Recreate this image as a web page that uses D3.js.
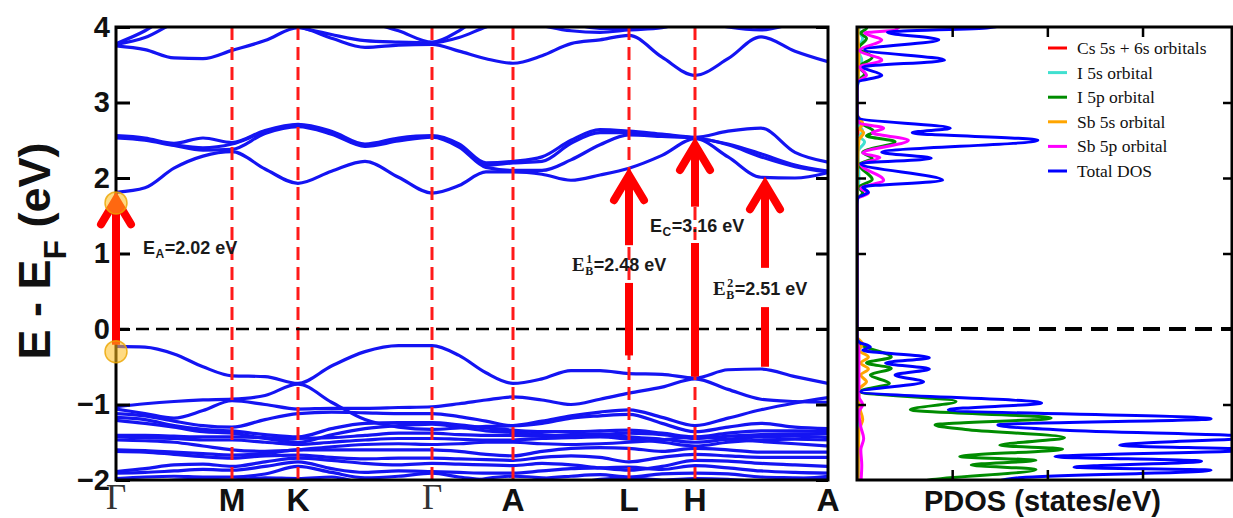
<!DOCTYPE html>
<html>
<head>
<meta charset="utf-8">
<script src="https://cdn.jsdelivr.net/npm/d3@7"></script>
<style>
  html, body { margin: 0; padding: 0; background: #fff; }
  svg { display: block; }
</style>
</head>
<body>
<svg id="chart" width="1233" height="518"></svg>
<script>
// ---------- k-path (distance along the path) ----------
const kPoints = [0, 0.29, 0.58, 0.87, 1.16, 1.49, 1.82, 2.155, 2.49, 2.825, 3.16,
                 3.43, 3.70, 3.97, 4.26, 4.55, 4.84, 5.13, 5.46, 5.79, 6.12, 6.45, 6.79, 7.12];
const kTickPos = [0, 1.16, 1.82, 3.16, 3.97, 5.13, 5.79, 7.12];
const kTickLabels = ["Γ", "M", "K", "Γ", "A", "L", "H", "A"];
const energyTicks = [-2, -1, 0, 1, 2, 3, 4];

// ---------- band energies (eV, relative to E_F) at each k-point ----------
const upperBands = [
  [3.75, 3.70, 3.59, 3.58, 3.69, 3.82, 3.99, 3.85, 3.73, 3.76, 3.77, 3.68, 3.58, 3.52, 3.62, 3.78, 3.83, 3.89, 3.60, 3.36, 3.58, 3.87, 3.68, 3.54],
  [3.77, 3.86, 4.05, 4.15, 4.20, 4.10, 4.00, 3.90, 3.82, 3.80, 3.79, 3.86, 4.00, 4.10, 4.02, 3.95, 3.93, 3.96, 3.99, 4.10, 4.00, 3.96, 4.05, 4.15],
  [3.78, 3.95, 4.20, 4.40, 4.40, 4.40, 4.30, 4.20, 4.08, 3.95, 3.80, 3.95, 4.20, 4.30, 4.20, 4.05, 3.98, 3.97, 4.10, 4.30, 4.15, 3.99, 4.10, 4.30]
];
const conductionBands = [
  [1.81, 1.87, 2.13, 2.29, 2.35, 2.12, 1.93, 2.09, 2.22, 2.01, 1.80, 1.90, 2.08, 2.08, 2.05, 1.97, 2.04, 2.13, 2.30, 2.52, 2.28, 2.01, 2.00, 2.07],
  [2.53, 2.50, 2.43, 2.37, 2.38, 2.59, 2.68, 2.58, 2.42, 2.49, 2.54, 2.41, 2.14, 2.10, 2.10, 2.24, 2.44, 2.57, 2.55, 2.53, 2.44, 2.28, 2.15, 2.08],
  [2.54, 2.51, 2.44, 2.40, 2.45, 2.61, 2.70, 2.60, 2.43, 2.51, 2.55, 2.43, 2.17, 2.20, 2.22, 2.46, 2.60, 2.60, 2.56, 2.53, 2.45, 2.32, 2.17, 2.09],
  [2.56, 2.53, 2.46, 2.53, 2.47, 2.63, 2.71, 2.62, 2.45, 2.53, 2.56, 2.45, 2.20, 2.22, 2.28, 2.50, 2.64, 2.62, 2.58, 2.54, 2.62, 2.66, 2.34, 2.21]
];
const valenceBands = [
  [-0.23, -0.24, -0.33, -0.50, -0.62, -0.63, -0.72, -0.49, -0.30, -0.22, -0.22, -0.35, -0.58, -0.72, -0.66, -0.55, -0.55, -0.59, -0.60, -0.65, -0.54, -0.53, -0.63, -0.72],
  [-1.03, -0.99, -0.96, -0.94, -0.93, -0.88, -0.73, -0.97, -1.20, -1.30, -1.33, -1.31, -1.29, -1.28, -1.22, -1.15, -1.10, -1.07, -1.17, -1.28, -1.18, -1.07, -0.98, -0.91],
  [-1.06, -1.12, -1.18, -1.08, -0.95, -1.00, -1.06, -1.05, -1.05, -1.04, -1.03, -0.99, -0.94, -0.90, -0.94, -1.00, -0.93, -0.85, -0.77, -0.66, -0.80, -0.93, -0.96, -0.97],
  [-1.12, -1.15, -1.22, -1.28, -1.30, -1.20, -1.12, -1.10, -1.11, -1.12, -1.12, -1.16, -1.22, -1.28, -1.25, -1.18, -1.15, -1.13, -1.25, -1.36, -1.30, -1.25, -1.30, -1.32],
  [-1.17, -1.20, -1.28, -1.33, -1.35, -1.40, -1.43, -1.32, -1.25, -1.24, -1.24, -1.27, -1.31, -1.34, -1.36, -1.36, -1.35, -1.34, -1.38, -1.43, -1.38, -1.35, -1.35, -1.36],
  [-1.21, -1.25, -1.30, -1.36, -1.38, -1.45, -1.50, -1.40, -1.32, -1.28, -1.26, -1.30, -1.35, -1.37, -1.40, -1.42, -1.40, -1.38, -1.40, -1.45, -1.42, -1.40, -1.39, -1.39],
  [-1.41, -1.41, -1.42, -1.43, -1.43, -1.44, -1.45, -1.44, -1.41, -1.38, -1.38, -1.40, -1.41, -1.41, -1.42, -1.40, -1.39, -1.43, -1.46, -1.50, -1.46, -1.43, -1.42, -1.44],
  [-1.43, -1.44, -1.45, -1.47, -1.47, -1.50, -1.53, -1.50, -1.47, -1.45, -1.45, -1.46, -1.47, -1.47, -1.45, -1.44, -1.43, -1.46, -1.50, -1.55, -1.50, -1.47, -1.46, -1.47],
  [-1.47, -1.48, -1.50, -1.55, -1.60, -1.62, -1.60, -1.56, -1.53, -1.52, -1.53, -1.52, -1.50, -1.50, -1.52, -1.53, -1.52, -1.50, -1.47, -1.43, -1.46, -1.49, -1.52, -1.55],
  [-1.60, -1.61, -1.63, -1.65, -1.67, -1.65, -1.60, -1.60, -1.60, -1.60, -1.60, -1.62, -1.66, -1.68, -1.62, -1.58, -1.57, -1.58, -1.62, -1.58, -1.60, -1.63, -1.63, -1.63],
  [-1.62, -1.63, -1.66, -1.69, -1.71, -1.68, -1.67, -1.70, -1.72, -1.71, -1.71, -1.72, -1.73, -1.74, -1.70, -1.68, -1.70, -1.76, -1.70, -1.66, -1.68, -1.70, -1.70, -1.70],
  [-1.89, -1.85, -1.80, -1.79, -1.82, -1.76, -1.71, -1.74, -1.78, -1.80, -1.78, -1.79, -1.80, -1.81, -1.78, -1.80, -1.84, -1.87, -1.82, -1.74, -1.75, -1.78, -1.80, -1.82],
  [-1.91, -1.90, -1.88, -1.86, -1.87, -1.82, -1.76, -1.85, -1.90, -1.88, -1.89, -1.90, -1.91, -1.91, -1.88, -1.85, -1.84, -1.83, -1.86, -1.81, -1.84, -1.88, -1.90, -1.91],
  [-1.98, -1.96, -1.95, -1.96, -1.96, -1.92, -1.82, -1.90, -1.97, -1.95, -1.91, -1.96, -2.00, -2.05, -1.98, -1.95, -1.93, -1.96, -1.92, -1.91, -1.92, -1.96, -1.97, -1.98],
  [-2.10, -2.05, -2.00, -1.99, -2.00, -1.97, -1.98, -1.96, -2.05, -2.10, -2.10, -2.05, -1.98, -1.95, -1.97, -2.05, -1.99, -1.97, -2.00, -1.98, -1.99, -2.02, -1.99, -1.95]
];

// ---------- optical transitions ----------
const gapK      = [0, 5.13, 5.79, 6.49];
const gapTop    = [1.81, 2.13, 2.53, 2.01];   // conduction-band end of each arrow
const gapValues = [2.02, 2.48, 3.16, 2.51];   // transition energy (eV)
const gapSub    = ["A", "B", "C", "B"];
const gapSup    = ["", "1", "", "2"];
const gapBreaks = [null, [0.61, 1.11], [1.14, 1.62], [0.29, 0.81]];
const gapLabelK = [0.27, 4.56, 5.34, 5.97];
const gapLabelE = [0.99, 0.77, 1.28, 0.45];
const edgeMarkers = [-0.30, 1.67];

// ---------- projected DOS: [energy (eV), states/eV] ----------
const totalDos = [
  [4.10, 8.5], [3.99, 6.9], [3.93, 1.6], [3.83, 4.3], [3.70, 0.4], [3.56, 4.6], [3.47, 0.3], [3.36, 1.3], [3.27, 0.05], [3.15, 0],
  [2.85, 0], [2.79, 0.1], [2.66, 4.9], [2.60, 2.9], [2.50, 9.5], [2.34, 1.3], [2.26, 3.9], [2.19, 0.2], [1.97, 4.5], [1.88, 0.3], [1.81, 0.6], [1.74, 0.05], [1.65, 0],
  [-0.10, 0], [-0.17, 0.1], [-0.24, 0.7], [-0.28, 0.3], [-0.38, 3.8], [-0.45, 1.5], [-0.53, 3.8], [-0.61, 2.0], [-0.70, 3.5], [-0.83, 0.2],
  [-0.98, 9.7], [-1.07, 4.8], [-1.19, 18.6], [-1.27, 7.4], [-1.34, 10.9], [-1.43, 21], [-1.54, 13.8], [-1.60, 21], [-1.69, 10.4],
  [-1.75, 18.1], [-1.83, 11.4], [-1.87, 18.6], [-1.97, 8.5], [-2.05, 7.0]
];
const i5pDos = [
  [4.10, 0.6], [3.98, 0.5], [3.92, 0.2], [3.85, 0.5], [3.72, 0.1], [3.60, 0.8], [3.47, 0.1], [3.38, 0.4], [3.27, 0.02], [3.15, 0],
  [2.85, 0], [2.75, 0.1], [2.61, 0.9], [2.56, 0.5], [2.48, 2.0], [2.34, 0.3], [2.26, 0.8], [2.18, 0.1], [1.98, 0.8], [1.88, 0.1], [1.80, 0.3], [1.72, 0], [1.65, 0],
  [-0.10, 0], [-0.21, 0.2], [-0.37, 1.8], [-0.45, 0.5], [-0.52, 1.8], [-0.61, 0.7], [-0.72, 1.7], [-0.83, 0.1],
  [-0.96, 5.2], [-1.07, 2.8], [-1.18, 10.2], [-1.27, 4.1], [-1.33, 5.7], [-1.44, 10.9], [-1.54, 7.5], [-1.59, 10.8],
  [-1.69, 5.4], [-1.74, 9.4], [-1.80, 6.0], [-1.86, 9.4], [-2.00, 3.8], [-2.05, 2.8]
];
const sb5pDos = [
  [4.10, 2.5], [3.96, 2.0], [3.92, 0.4], [3.83, 1.3], [3.69, 0.15], [3.56, 1.3], [3.47, 0.15], [3.36, 0.5], [3.27, 0.02], [3.15, 0],
  [2.85, 0], [2.73, 0.1], [2.66, 1.4], [2.60, 0.8], [2.50, 2.7], [2.33, 0.3], [2.27, 1.2], [2.18, 0.2], [1.97, 1.4], [1.86, 0.2], [1.80, 0.6], [1.72, 0], [1.65, 0],
  [-0.10, 0], [-0.30, 0.1], [-0.60, 0.1], [-0.90, 0.1], [-1.00, 0.3], [-1.10, 0.1], [-1.30, 0.2], [-1.45, 0.35], [-1.60, 0.2], [-1.80, 0.25], [-2.05, 0.2]
];
const sb5sDos = [
  [4.10, 0.1], [3.90, 0.05], [3.60, 0.1], [3.30, 0.05], [3.15, 0],
  [2.85, 0], [2.72, 0.3], [2.65, 0.15], [2.60, 0.35], [2.50, 0.1], [2.30, 0.05], [1.70, 0],
  [-0.10, 0], [-0.20, 0.3], [-0.28, 0.1], [-0.37, 0.6], [-0.45, 0.2], [-0.53, 0.6], [-0.61, 0.2], [-0.70, 0.5], [-0.80, 0.1],
  [-1.00, 0.1], [-1.20, 0.3], [-1.35, 0.1], [-2.05, 0.05]
];
const i5sDos = [
  [4.10, 0.25], [3.95, 0.1], [3.85, 0.3], [3.70, 0.05], [3.56, 0.25], [3.45, 0.05], [3.30, 0.1], [3.20, 0],
  [2.85, 0], [2.70, 0.1], [2.62, 0.3], [2.55, 0.15], [2.48, 0.4], [2.35, 0.05], [2.00, 0.1], [1.70, 0],
  [-0.10, 0], [-0.40, 0.05], [-1.00, 0.05], [-2.05, 0.05]
];
const csDos = [
  [4.10, 0.05], [3.90, 0.03], [3.20, 0], [2.85, 0], [2.60, 0.05], [2.40, 0.03], [1.70, 0],
  [-0.10, 0], [-1.00, 0.05], [-1.50, 0.05], [-2.05, 0.05]
];

const pdosSeries = [csDos, i5sDos, i5pDos, sb5sDos, sb5pDos, totalDos];
const pdosNames  = ["Cs 5s + 6s orbitals", "I 5s orbital", "I 5p orbital", "Sb 5s orbital", "Sb 5p orbital", "Total DOS"];
const pdosColors = ["#ff0000", "#40e0d0", "#008c00", "#ffa500", "#ff00ff", "#0000ff"];
const dosTicks = [5, 10, 15];

// ---------- layout ----------
const sans = "'Liberation Sans', Arial, Helvetica, sans-serif";
const serif = "'Liberation Serif', 'Times New Roman', serif";
const svg = d3.select("#chart");

const x = d3.scaleLinear().domain([0, 7.12]).range([116, 828]);
const y = d3.scaleLinear().domain([-2, 4]).range([480, 27]);
const xd = d3.scaleLinear().domain([0, 19.7]).range([857, 1232]);

const defs = svg.append("defs");
defs.append("clipPath").attr("id", "clipBands").append("rect")
  .attr("x", x(0)).attr("y", y(4)).attr("width", x(7.12) - x(0)).attr("height", y(-2) - y(4));
defs.append("clipPath").attr("id", "clipDos").append("rect")
  .attr("x", xd(0)).attr("y", y(4)).attr("width", xd(19.7) - xd(0)).attr("height", y(-2) - y(4));

// ---------- band structure ----------
const bandG = svg.append("g").attr("clip-path", "url(#clipBands)");
const bandLine = d3.line()
  .x((d, i) => x(kPoints[i]))
  .y(d => y(d))
  .curve(d3.curveMonotoneX);

[...valenceBands, ...conductionBands, ...upperBands].forEach(b => {
  bandG.append("path")
    .attr("d", bandLine(b))
    .attr("fill", "none")
    .attr("stroke", "#1414f2")
    .attr("stroke-width", 3.2)
    .attr("stroke-linejoin", "round");
});

// high-symmetry lines
bandG.selectAll("line.hs")
  .data(kTickPos.slice(1, -1))
  .join("line")
  .attr("class", "hs")
  .attr("x1", d => x(d)).attr("x2", d => x(d))
  .attr("y1", y(4)).attr("y2", y(-2))
  .attr("stroke", "#ff1a1a")
  .attr("stroke-width", 3)
  .attr("stroke-dasharray", "13,7");

// Fermi level
bandG.append("line")
  .attr("x1", x(0)).attr("x2", x(7.12))
  .attr("y1", y(0)).attr("y2", y(0))
  .attr("stroke", "#000").attr("stroke-width", 2.5)
  .attr("stroke-dasharray", "13,7");

// frame and ticks of the band panel
svg.append("rect")
  .attr("x", x(0)).attr("y", y(4))
  .attr("width", x(7.12) - x(0)).attr("height", y(-2) - y(4))
  .attr("fill", "none").attr("stroke", "#000").attr("stroke-width", 3);

const leftAxis = svg.append("g")
  .attr("transform", `translate(${x(0)},0)`)
  .call(d3.axisLeft(y).tickValues(energyTicks).tickSize(-14).tickPadding(6).tickFormat(d3.format("d")));
leftAxis.select(".domain").remove();
leftAxis.selectAll("line").attr("stroke", "#000").attr("stroke-width", 3);
leftAxis.selectAll("text")
  .attr("font-family", sans).attr("font-weight", "bold").attr("font-size", 29).attr("fill", "#111");

const rightAxis = svg.append("g")
  .attr("transform", `translate(${x(7.12)},0)`)
  .call(d3.axisRight(y).tickValues(energyTicks).tickSize(-12).tickFormat(""));
rightAxis.select(".domain").remove();
rightAxis.selectAll("line").attr("stroke", "#000").attr("stroke-width", 3);

// k-path labels
svg.append("g").selectAll("text")
  .data(kTickPos)
  .join("text")
  .attr("x", d => x(d))
  .attr("y", (d, i) => kTickLabels[i] === "Γ" ? 509 : 511)
  .attr("text-anchor", "middle")
  .attr("font-family", (d, i) => kTickLabels[i] === "Γ" ? serif : sans)
  .attr("font-weight", (d, i) => kTickLabels[i] === "Γ" ? "normal" : "bold")
  .attr("font-size", (d, i) => kTickLabels[i] === "Γ" ? 35 : 32)
  .attr("fill", (d, i) => kTickLabels[i] === "Γ" ? "#333" : "#111")
  .text((d, i) => kTickLabels[i]);

// y-axis title
const yTitle = svg.append("text")
  .attr("transform", "translate(50,251) rotate(-90)")
  .attr("text-anchor", "middle")
  .attr("font-family", sans).attr("font-weight", "bold").attr("font-size", 45).attr("fill", "#111");
yTitle.append("tspan").text("E - E");
yTitle.append("tspan").attr("font-size", 32).attr("dy", 16).text("F");
yTitle.append("tspan").attr("dy", -16).text(" (eV)");

// ---------- transition arrows ----------
const annot = svg.append("g");
gapK.forEach((k, i) => {
  const top = gapTop[i];
  const bottom = top - gapValues[i];
  const xp = x(k);
  const yTip = y(top);
  const segs = gapBreaks[i] ? [[bottom, gapBreaks[i][0]], [gapBreaks[i][1], top]] : [[bottom, top]];
  segs.forEach(([a, b]) => {
    annot.append("line")
      .attr("x1", xp).attr("x2", xp)
      .attr("y1", y(a)).attr("y2", b === top ? yTip + 12 : y(b))
      .attr("stroke", "#ff0000").attr("stroke-width", 8);
  });
  annot.append("path")
    .attr("d", `M${xp - 15},${yTip + 32}L${xp},${yTip + 7}L${xp + 15},${yTip + 32}`)
    .attr("fill", "none")
    .attr("stroke", "#ff0000").attr("stroke-width", 8)
    .attr("stroke-linejoin", "miter").attr("stroke-linecap", "round");
});

// band-edge markers at Γ
annot.selectAll("circle")
  .data(edgeMarkers)
  .join("circle")
  .attr("cx", x(0)).attr("cy", d => y(d)).attr("r", 11)
  .attr("fill", "rgba(255,190,30,0.55)")
  .attr("stroke", "rgba(235,165,0,0.8)").attr("stroke-width", 1.5);

// transition labels
gapValues.forEach((v, i) => {
  const x0 = x(gapLabelK[i]);
  const y0 = y(gapLabelE[i]);
  const hasSup = gapSup[i] !== "";
  const eText = annot.append("text")
    .attr("x", x0).attr("y", y0)
    .attr("font-family", hasSup ? serif : sans).attr("font-weight", "bold")
    .attr("font-size", hasSup ? 19 : 18).attr("fill", "#1a1a1a")
    .text("E");
  let cx = x0 + eText.node().getComputedTextLength() + 0.5;
  const sub = annot.append("text")
    .attr("x", cx).attr("y", y0 + 4)
    .attr("font-family", hasSup ? serif : sans).attr("font-weight", "bold")
    .attr("font-size", 12).attr("fill", "#1a1a1a")
    .text(gapSub[i]);
  let w = sub.node().getComputedTextLength();
  if (hasSup) {
    const sup = annot.append("text")
      .attr("x", cx + 1).attr("y", y0 - 8)
      .attr("font-family", serif).attr("font-weight", "bold")
      .attr("font-size", 12).attr("fill", "#1a1a1a")
      .text(gapSup[i]);
    w = Math.max(w, sup.node().getComputedTextLength() + 1);
  }
  cx += w + 0.5;
  annot.append("text")
    .attr("x", cx).attr("y", y0)
    .attr("font-family", sans).attr("font-weight", "bold")
    .attr("font-size", 18).attr("fill", "#1a1a1a")
    .text(`=${v.toFixed(2)} eV`);
});

// ---------- PDOS panel ----------
const dosG = svg.append("g").attr("clip-path", "url(#clipDos)");
const dosLine = d3.line()
  .x(d => xd(d[1]))
  .y(d => y(d[0]))
  .curve(d3.curveMonotoneY);

pdosSeries.forEach((s, i) => {
  dosG.append("path")
    .attr("d", dosLine(s))
    .attr("fill", "none")
    .attr("stroke", pdosColors[i])
    .attr("stroke-width", 3)
    .attr("stroke-linejoin", "round");
});

dosG.append("line")
  .attr("x1", xd(0)).attr("x2", xd(19.7))
  .attr("y1", y(0)).attr("y2", y(0))
  .attr("stroke", "#000").attr("stroke-width", 4)
  .attr("stroke-dasharray", "17,9");

svg.append("rect")
  .attr("x", xd(0)).attr("y", y(4))
  .attr("width", xd(19.7) - xd(0)).attr("height", y(-2) - y(4))
  .attr("fill", "none").attr("stroke", "#000").attr("stroke-width", 3);

const dosLeft = svg.append("g").attr("transform", `translate(${xd(0)},0)`)
  .call(d3.axisLeft(y).tickValues(energyTicks.slice(1, -1)).tickSize(-9).tickFormat(""));
const dosRight = svg.append("g").attr("transform", `translate(${xd(19.7)},0)`)
  .call(d3.axisRight(y).tickValues(energyTicks.slice(1, -1)).tickSize(-9).tickFormat(""));
const dosTop = svg.append("g").attr("transform", `translate(0,${y(4)})`)
  .call(d3.axisTop(xd).tickValues(dosTicks).tickSize(-10).tickFormat(""));
const dosBottom = svg.append("g").attr("transform", `translate(0,${y(-2)})`)
  .call(d3.axisBottom(xd).tickValues(dosTicks).tickSize(-10).tickFormat(""));
[dosLeft, dosRight, dosTop, dosBottom].forEach(a => {
  a.select(".domain").remove();
  a.selectAll("line").attr("stroke", "#000").attr("stroke-width", 2.5);
});

svg.append("text")
  .attr("x", (xd(0) + xd(19.7)) / 2 - 2).attr("y", 511)
  .attr("text-anchor", "middle")
  .attr("font-family", sans).attr("font-weight", "bold").attr("font-size", 29).attr("fill", "#111")
  .text("PDOS (states/eV)");

// legend
const legend = svg.append("g").attr("transform", "translate(1048,48)");
pdosNames.forEach((name, i) => {
  const row = legend.append("g").attr("transform", `translate(0,${i * 24.6})`);
  row.append("line")
    .attr("x1", 0).attr("x2", 19).attr("y1", 0).attr("y2", 0)
    .attr("stroke", pdosColors[i]).attr("stroke-width", 3);
  row.append("text")
    .attr("x", 29).attr("y", 6)
    .attr("font-family", serif).attr("font-size", 17.5).attr("fill", "#111")
    .text(name);
});
</script>
</body>
</html>
